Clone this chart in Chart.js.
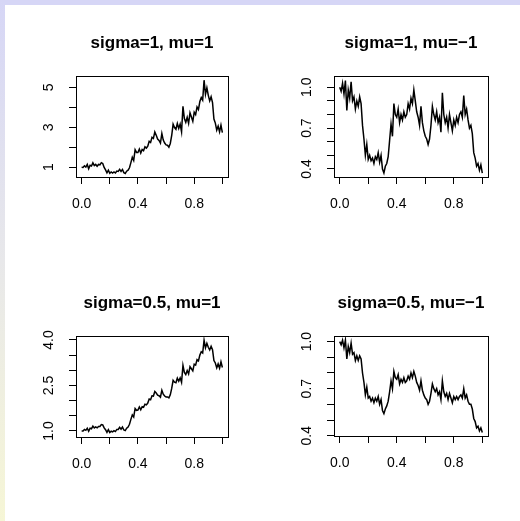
<!DOCTYPE html>
<html>
<head>
<meta charset="utf-8">
<script src="https://cdn.jsdelivr.net/npm/chart.js@4.4.1/dist/chart.umd.min.js"></script>
<style>
  html, body { margin: 0; padding: 0; background: #ffffff; }
  body { width: 520px; height: 521px; position: relative; overflow: hidden; }
  #topband { position: absolute; left: 0; top: 0; width: 520px; height: 5px; background: #d6d6f6; }
  #leftband { position: absolute; left: 0; top: 0; width: 5px; height: 521px;
              background: linear-gradient(to bottom, #d6d6f6 0%, #e8e8ea 50%, #f6f6d6 100%); }
  .panel { position: absolute; width: 260px; height: 260px; }
</style>
</head>
<body>
<div id="topband"></div>
<div id="leftband"></div>
<div class="panel" style="left:0px;top:0px"><canvas id="c1" width="260" height="260"></canvas></div>
<div class="panel" style="left:260px;top:0px"><canvas id="c2" width="260" height="260"></canvas></div>
<div class="panel" style="left:0px;top:260px"><canvas id="c3" width="260" height="260"></canvas></div>
<div class="panel" style="left:260px;top:260px"><canvas id="c4" width="260" height="260"></canvas></div>
<script>
// ---- data ----
const tValues = [0.00,0.01,0.02,0.03,0.04,0.05,0.06,0.07,0.08,0.09,
  0.10,0.11,0.12,0.13,0.14,0.15,0.16,0.17,0.18,0.19,
  0.20,0.21,0.22,0.23,0.24,0.25,0.26,0.27,0.28,0.29,
  0.30,0.31,0.32,0.33,0.34,0.35,0.36,0.37,0.38,0.39,
  0.40,0.41,0.42,0.43,0.44,0.45,0.46,0.47,0.48,0.49,
  0.50,0.51,0.52,0.53,0.54,0.55,0.56,0.57,0.58,0.59,
  0.60,0.61,0.62,0.63,0.64,0.65,0.66,0.67,0.68,0.69,
  0.70,0.71,0.72,0.73,0.74,0.75,0.76,0.77,0.78,0.79,
  0.80,0.81,0.82,0.83,0.84,0.85,0.86,0.87,0.88,0.89,
  0.90,0.91,0.92,0.93,0.94,0.95,0.96,0.97,0.98,0.99,
  1.00];

const sigma1Mu1 = [1.00,0.99,1.07,1.01,1.14,0.92,1.10,1.06,1.22,1.08,
  1.14,1.05,1.14,1.12,1.23,1.19,0.99,0.87,0.72,0.85,
  0.70,0.76,0.71,0.76,0.71,0.81,0.79,0.89,0.79,0.89,
  0.73,0.69,0.80,0.85,0.97,1.23,1.50,1.34,1.88,1.74,
  1.74,1.91,1.71,1.89,1.83,2.02,1.96,2.05,2.30,2.24,
  2.50,2.44,2.77,2.60,2.41,2.34,2.21,2.69,2.36,2.21,
  2.12,2.10,2.00,2.19,2.59,3.16,2.99,2.90,3.19,2.94,
  3.16,2.77,4.05,3.44,3.25,3.50,3.20,3.73,3.52,3.30,
  3.76,3.64,4.02,3.89,4.29,4.49,4.36,5.36,4.65,4.98,
  4.60,4.32,4.53,4.24,3.41,3.21,2.86,3.06,2.77,3.11,
  2.73];

const sigma1MuNeg1 = [1.00,0.97,1.03,0.95,1.05,0.83,0.98,0.92,1.04,0.90,
  0.93,0.84,0.90,0.86,0.93,0.88,0.72,0.62,0.50,0.58,
  0.47,0.50,0.46,0.48,0.44,0.49,0.47,0.52,0.45,0.50,
  0.40,0.37,0.42,0.44,0.49,0.61,0.73,0.64,0.88,0.80,
  0.78,0.84,0.74,0.80,0.76,0.82,0.78,0.80,0.88,0.84,
  0.92,0.88,0.98,0.90,0.82,0.78,0.72,0.86,0.74,0.68,
  0.64,0.62,0.58,0.62,0.72,0.86,0.80,0.76,0.82,0.74,
  0.78,0.67,0.96,0.80,0.74,0.78,0.70,0.80,0.74,0.68,
  0.76,0.72,0.78,0.74,0.80,0.82,0.78,0.94,0.80,0.84,
  0.76,0.70,0.72,0.66,0.52,0.48,0.42,0.44,0.39,0.43,
  0.37];

const sigma05Mu1 = [1.00,1.00,1.05,1.02,1.09,0.99,1.09,1.07,1.16,1.10,
  1.13,1.10,1.15,1.15,1.21,1.20,1.10,1.04,0.95,1.04,
  0.95,0.99,0.97,1.01,0.98,1.05,1.05,1.12,1.06,1.13,
  1.03,1.01,1.09,1.13,1.22,1.38,1.53,1.46,1.74,1.68,
  1.69,1.79,1.70,1.80,1.78,1.88,1.86,1.92,2.05,2.03,
  2.16,2.15,2.30,2.25,2.18,2.16,2.11,2.34,2.21,2.15,
  2.12,2.12,2.09,2.19,2.40,2.67,2.61,2.59,2.74,2.64,
  2.75,2.60,3.16,2.93,2.86,2.99,2.88,3.12,3.05,2.98,
  3.20,3.17,3.35,3.31,3.50,3.61,3.57,3.99,3.74,3.89,
  3.76,3.67,3.79,3.68,3.32,3.24,3.08,3.21,3.07,3.28,
  3.09];

const sigma05MuNeg1 = [1.00,0.98,1.01,0.96,1.01,0.89,0.97,0.93,0.99,0.92,
  0.93,0.88,0.91,0.88,0.91,0.89,0.80,0.74,0.66,0.71,
  0.64,0.65,0.62,0.64,0.61,0.64,0.62,0.65,0.60,0.63,
  0.56,0.54,0.57,0.59,0.62,0.68,0.75,0.70,0.81,0.77,
  0.76,0.79,0.73,0.76,0.74,0.77,0.74,0.75,0.78,0.76,
  0.80,0.77,0.81,0.78,0.74,0.72,0.69,0.75,0.69,0.66,
  0.64,0.63,0.60,0.62,0.67,0.73,0.70,0.68,0.70,0.66,
  0.68,0.63,0.75,0.68,0.65,0.67,0.63,0.67,0.64,0.61,
  0.65,0.63,0.65,0.63,0.65,0.66,0.64,0.70,0.64,0.66,
  0.62,0.60,0.60,0.57,0.51,0.49,0.45,0.46,0.43,0.45,
  0.42];

const titles = ['sigma=1, mu=1', 'sigma=1, mu=\u22121', 'sigma=0.5, mu=1', 'sigma=0.5, mu=\u22121'];

const xTickLabels = ['0.0', '', '0.4', '', '0.8', ''];
const yTickLabels1 = ['1', '', '3', '', '5'];
const yTickLabels2 = ['0.4', '', '', '0.7', '', '', '1.0'];
const yTickLabels3 = ['1.0', '', '', '2.5', '', '', '4.0'];
const yTickLabels4 = ['0.4', '', '', '0.7', '', '', '1.0'];

const yStep = [1, 0.1, 0.5, 0.1];
const yLimits = [[0.51, 5.57], [0.341, 1.083], [0.80, 4.13], [0.398, 1.036]];
const xLimits = [-0.04, 1.04];

// ---- drawing ----
const FONT = '"Liberation Sans", Arial, Helvetica, sans-serif';
const Y_AXIS_W = 56;
const X_AXIS_H = 40;

const boxPlugin = {
  id: 'rbox',
  afterDatasetsDraw(chart) {
    const a = chart.chartArea, ctx = chart.ctx;
    ctx.save();
    ctx.strokeStyle = '#000';
    ctx.lineWidth = 1;
    const l = Math.round(a.left) + 0.5, t = Math.round(a.top) + 0.5;
    const r = Math.round(a.right) + 0.5, b = Math.round(a.bottom) + 0.5;
    ctx.strokeRect(l, t, r - l, b - t);
    ctx.restore();
  }
};

function makePanel(id, series, title, yLabels, idx, layout) {
  const pts = tValues.map((t, i) => ({ x: t, y: series[i] }));
  return new Chart(document.getElementById(id), {
    type: 'line',
    data: { datasets: [{ data: pts, borderColor: '#000', borderWidth: 1.5, pointRadius: 0, tension: 0, fill: false }] },
    options: {
      responsive: false, animation: false, events: [],
      layout: { padding: layout.padding },
      plugins: {
        legend: { display: false }, tooltip: { enabled: false },
        title: { display: true, text: title, fullSize: false, color: '#000',
                 font: { family: FONT, size: 17, weight: 'bold', lineHeight: 1.2 },
                 padding: { top: 0, bottom: layout.titleBottom } }
      },
      scales: {
        x: {
          type: 'linear', min: xLimits[0], max: xLimits[1],
          border: { display: false },
          grid: { drawOnChartArea: false, drawTicks: true, tickLength: 7, color: '#000', lineWidth: 1 },
          ticks: { stepSize: 0.2, includeBounds: false, autoSkip: false, maxRotation: 0, minRotation: 0,
                   color: '#000', padding: 12, font: { family: FONT, size: 14 },
                   callback: (v, i) => xTickLabels[i] },
          afterFit: s => { s.height = X_AXIS_H; }
        },
        y: {
          type: 'linear', min: yLimits[idx][0], max: yLimits[idx][1],
          border: { display: false },
          grid: { drawOnChartArea: false, drawTicks: true, tickLength: 7, color: '#000', lineWidth: 1 },
          ticks: { stepSize: yStep[idx], includeBounds: false, autoSkip: false, minRotation: 90, maxRotation: 90,
                   crossAlign: 'center', color: '#000', padding: layout.yPad, font: { family: FONT, size: 14 },
                   callback: (v, i) => yLabels[i] },
          afterFit: s => { s.width = Y_AXIS_W; }
        }
      }
    },
    plugins: [boxPlugin]
  });
}

// chart areas (canvas-local): left, right, top, bottom
const areas = [[76, 228, 76, 177], [74, 228, 76, 177], [76, 228, 76, 177], [74, 228, 76, 176]];
const padTop = 33.2;
const yPads = [15.6, 9.8, 9.8, 9.8];
const seriesList = [sigma1Mu1, sigma1MuNeg1, sigma05Mu1, sigma05MuNeg1];
const yLabelList = [yTickLabels1, yTickLabels2, yTickLabels3, yTickLabels4];

areas.forEach((a, i) => {
  const layout = {
    padding: { left: a[0] - Y_AXIS_W, right: 260 - a[1], top: padTop, bottom: 260 - a[3] - X_AXIS_H },
    titleBottom: a[2] - padTop - 17 * 1.2,
    yPad: yPads[i]
  };
  makePanel('c' + (i + 1), seriesList[i], titles[i], yLabelList[i], i, layout);
});
</script>
</body>
</html>
